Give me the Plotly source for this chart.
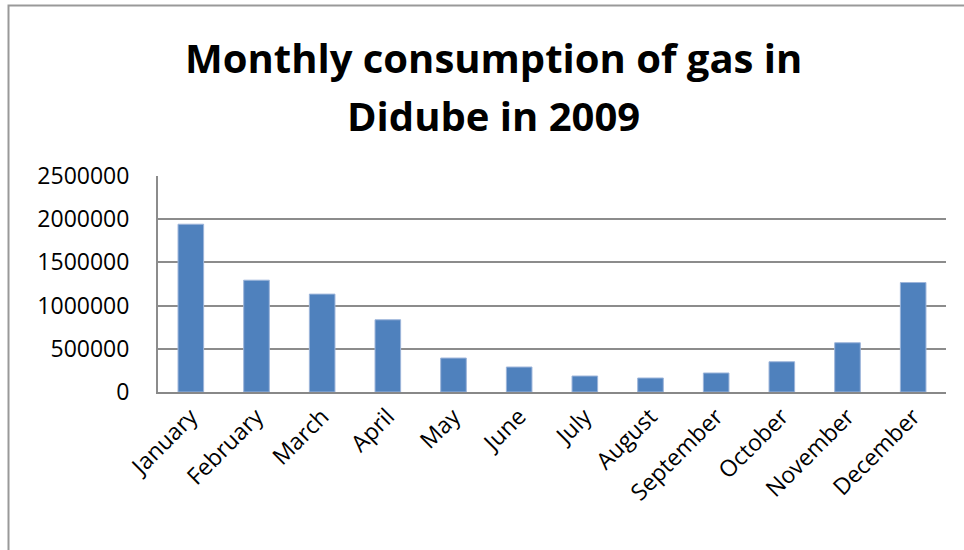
import plotly.graph_objects as go

months = ["January", "February", "March", "April", "May", "June", "July",
          "August", "September", "October", "November", "December"]
consumption = [1942000, 1294000, 1133000, 836000, 393000, 289000, 185000,
               162000, 220000, 350000, 570000, 1267000]
y_ticks = [0, 500000, 1000000, 1500000, 2000000, 2500000]
title_lines = ["Monthly consumption of gas in", "Didube in 2009"]

fig = go.Figure()
fig.add_trace(go.Bar(
    x=months, y=consumption,
    marker=dict(color="#4F81BD", line=dict(color="#9DB5DA", width=1)),
    width=0.39,
))

fig.update_layout(
    width=964, height=550,
    margin=dict(l=158, r=18, t=176, b=158),
    paper_bgcolor="white", plot_bgcolor="white",
    showlegend=False,
    font=dict(family="Open Sans", color="black"),
)
for line, ypx in zip(title_lines, [57, 115]):
    fig.add_annotation(text=line, xref="paper", yref="paper",
                       x=(493 - 158) / 788, y=(392 - ypx) / 216,
                       xanchor="center", yanchor="middle", showarrow=False,
                       font=dict(family="Open Sans", size=40, color="black", weight="bold"))
fig.update_xaxes(
    type="category", tickangle=-45, showline=True, linecolor="#888888", linewidth=2,
    tickfont=dict(size=23, family="Open Sans"), ticks="", showgrid=False,
)
fig.update_yaxes(
    range=[0, 2500000], tickvals=y_ticks, ticktext=[str(v) for v in y_ticks],
    showgrid=True, gridcolor="#8c8c8c", gridwidth=2, showline=True,
    linecolor="#8c8c8c", linewidth=2, zeroline=False,
    tickfont=dict(size=23, family="Open Sans"), ticks="outside", ticklen=22, tickcolor="white",
)
fig.add_shape(type="rect", xref="paper", yref="paper",
              x0=(8.5 - 158) / 788, x1=(1000 - 158) / 788,
              y0=(392 - 600) / 216, y1=(392 - 5.5) / 216,
              line=dict(color="#999999", width=2), fillcolor="rgba(0,0,0,0)", layer="below")

fig.write_html("out.html", config={"displayModeBar": False},
               post_script="document.body.style.margin='0';document.body.style.overflow='hidden';")
